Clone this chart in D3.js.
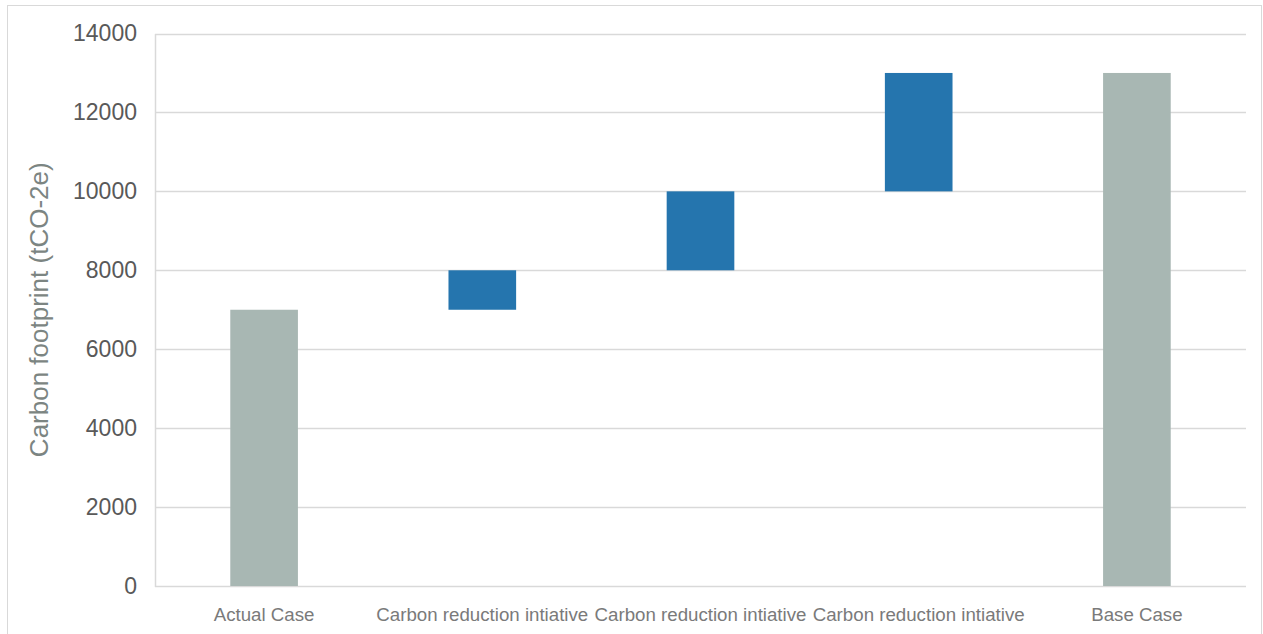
<!DOCTYPE html>
<html>
<head>
<meta charset="utf-8">
<script src="https://cdn.jsdelivr.net/npm/d3@7/dist/d3.min.js"></script>
<style>
  html, body { margin: 0; padding: 0; background: #ffffff; }
  svg { display: block; font-family: "Liberation Sans", Arial, sans-serif; }
</style>
</head>
<body>
<svg id="chart" width="1263" height="634"></svg>
<script>
// Waterfall: actual footprint, three reduction steps, base case
const categories = ["Actual Case", "Carbon reduction intiative", "Carbon reduction intiative", "Carbon reduction intiative", "Base Case"];
const stepValues = [7000, 1000, 2000, 3000, 13000];
const stepKinds = ["total", "delta", "delta", "delta", "total"];
const yTicks = [0, 2000, 4000, 6000, 8000, 10000, 12000, 14000];
const yTitle = "Carbon footprint (tCO-2e)";

const W = 1263, H = 634;
const margin = { left: 155, right: 17, top: 33.5, bottom: 48 };
const svg = d3.select("#chart");

// outer frame
svg.append("rect")
  .attr("x", 7.5).attr("y", 5.5)
  .attr("width", 1254).attr("height", 640)
  .attr("fill", "none").attr("stroke", "#d9d9d9").attr("stroke-width", 1);

const x = d3.scaleBand()
  .domain(d3.range(categories.length))
  .range([margin.left, W - margin.right])
  .paddingInner(0.69).paddingOuter(0.345);

const y = d3.scaleLinear().domain([0, 14000]).range([H - margin.bottom, margin.top]);

// compute floating bar extents
let running = 0;
const bars = stepValues.map((v, i) => {
  let lo, hi;
  if (stepKinds[i] === "total") { lo = 0; hi = v; running = v; }
  else { lo = running; hi = running + v; running = hi; }
  return { i, lo, hi, kind: stepKinds[i] };
});

// gridlines
svg.append("g").selectAll("line").data(yTicks).join("line")
  .attr("x1", margin.left).attr("x2", W - margin.right)
  .attr("y1", d => Math.round(y(d)) + 0.5).attr("y2", d => Math.round(y(d)) + 0.5)
  .attr("stroke", "#d9d9d9").attr("stroke-width", 1.5);

// left axis line
svg.append("line")
  .attr("x1", margin.left + 0.5).attr("x2", margin.left + 0.5)
  .attr("y1", Math.round(y(14000))).attr("y2", Math.round(y(0)) + 1)
  .attr("stroke", "#d9d9d9").attr("stroke-width", 1.5);

// y tick labels
const yAxis = d3.axisLeft(y).tickValues(yTicks).tickSize(0).tickPadding(18).tickFormat(d3.format("d"));
const gy = svg.append("g").attr("transform", `translate(${margin.left},0)`).call(yAxis);
gy.select(".domain").remove();
gy.selectAll("text").attr("font-size", 23).attr("fill", "#595959")
  .attr("font-family", "Liberation Sans, Arial, sans-serif");

// bars
svg.append("g").selectAll("rect").data(bars).join("rect")
  .attr("x", d => x(d.i))
  .attr("width", x.bandwidth())
  .attr("y", d => y(d.hi))
  .attr("height", d => y(d.lo) - y(d.hi))
  .attr("fill", d => d.kind === "total" ? "#a8b7b3" : "#2575ae");

// category labels
svg.append("g").selectAll("text").data(categories).join("text")
  .attr("x", (d, i) => x(i) + x.bandwidth() / 2)
  .attr("y", 621)
  .attr("text-anchor", "middle")
  .attr("font-size", 18.7)
  .attr("fill", "#7a7a7a")
  .text(d => d);

// y axis title
svg.append("text")
  .attr("transform", `translate(48,${(y(0) + y(14000)) / 2}) rotate(-90)`)
  .attr("text-anchor", "middle")
  .attr("font-size", 26)
  .attr("fill", "#7c8582")
  .text(yTitle);
</script>
</body>
</html>
